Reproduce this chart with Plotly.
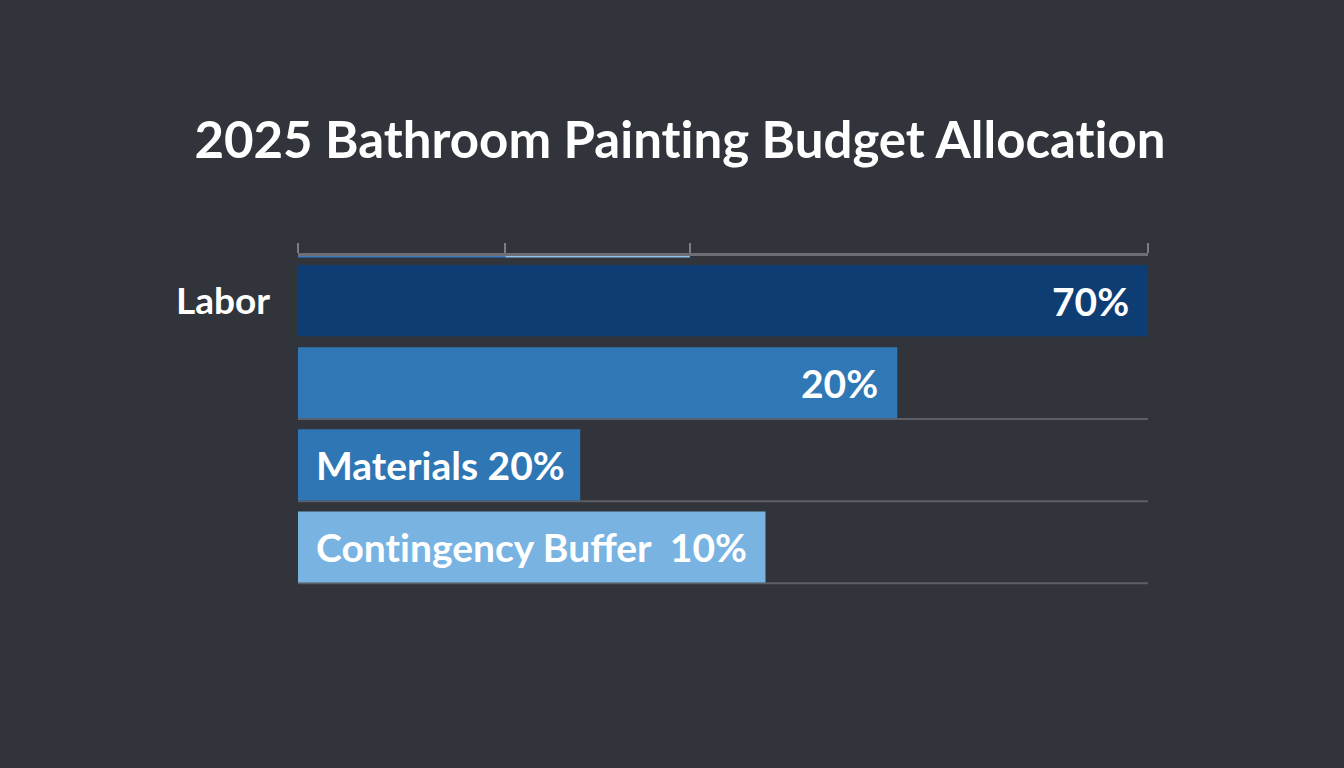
import plotly.graph_objects as go

# ---- data ----
ZWNJ = "\u200c"  # prevents the "ti" ligature so text looks like the reference
row_names = ["Labor", "", "Materials", "Contingency Buffer"]
bar_lengths = [100, 70.5, 33.2, 55.0]          # relative bar length (axis units)
bar_labels = ["70%", "20%", "Materials 20%", f"Cont{ZWNJ}ingency Buffer  10%"]
label_anchor = ["end", "end", "start", "start"]
bar_colors = ["#0e3d74", "#2f78b5", "#2f76b4", "#79b3e2"]
tick_labels = ["Labor", "", "", ""]
gridline_rows = [1, 2, 3]
top_seg_start = [0, 24.4]
top_seg_end = [24.4, 46.1]
top_seg_colors = ["#3b7bbd", "#8fc2ea"]
top_tickvals = [0, 24.4, 46.1, 100]
title_text = f"2025 Bathroom Paint{ZWNJ}ing Budget Allocat{ZWNJ}ion"

BG = "#31353b"
FONT = "Lato"
BAR_W = 0.866
Y_TOP = -0.543
LABEL_SIZE = 39
TICK_SIZE = 37

rows = list(range(len(row_names)))

fig = go.Figure()
fig.add_trace(go.Bar(
    x=bar_lengths, y=rows, orientation="h",
    marker=dict(color=bar_colors, line=dict(width=0)),
    width=BAR_W, hoverinfo="skip", showlegend=False,
))

for s, e, c in zip(top_seg_start, top_seg_end, top_seg_colors):
    fig.add_trace(go.Scatter(
        x=[s, e], y=[Y_TOP, Y_TOP], mode="lines",
        line=dict(color=c, width=3), cliponaxis=False,
        hoverinfo="skip", showlegend=False,
    ))

for i in gridline_rows:
    fig.add_shape(type="line", xref="paper", x0=0, x1=1, yref="y",
                  y0=i + BAR_W / 2 + 0.01, y1=i + BAR_W / 2 + 0.01,
                  line=dict(color="#5c5f65", width=2), layer="below")

for i, (v, t, a) in enumerate(zip(bar_lengths, bar_labels, label_anchor)):
    if a == "end":
        fig.add_annotation(x=v, y=i, text=t, showarrow=False, xanchor="right",
                           xshift=-17, font=dict(family=FONT, size=LABEL_SIZE, color="white", weight="bold"))
    else:
        fig.add_annotation(x=0, y=i, text=t, showarrow=False, xanchor="left",
                           xshift=16, font=dict(family=FONT, size=LABEL_SIZE, color="white", weight="bold"))

fig.update_layout(
    width=1344, height=768,
    paper_bgcolor=BG, plot_bgcolor=BG,
    margin=dict(l=298, r=196, t=256, b=180, pad=0),
    title=dict(text=title_text, x=680 / 1344, xref="container",
               xanchor="center", y=1 - 140 / 768, yanchor="middle", yref="container",
               font=dict(family=FONT, size=51, color="white", weight="bold")),
    font=dict(family=FONT, color="white"),
    xaxis=dict(range=[0, 100], side="top", showgrid=False, zeroline=False,
               showline=True, linecolor="#6b6e74", linewidth=3,
               ticks="outside", ticklen=10, tickwidth=2, tickcolor="#7a7d83",
               tickvals=top_tickvals, showticklabels=False, layer="below traces"),
    yaxis=dict(range=[3.5, Y_TOP], showgrid=False, zeroline=False, showline=False,
               tickvals=rows, ticktext=tick_labels, ticks="",
               tickfont=dict(family=FONT, size=TICK_SIZE, color="white", weight="bold"),
               ticklabelstandoff=27),
)

fig.write_html("out.html")
